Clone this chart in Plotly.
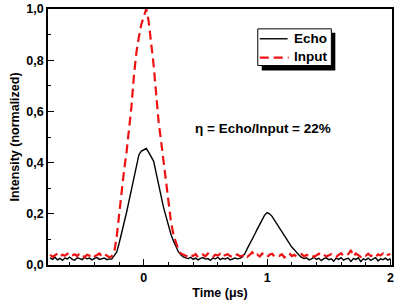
import plotly.graph_objects as go

time_us = [-0.76, -0.74, -0.72, -0.70, -0.68, -0.66, -0.64, -0.62, -0.60, -0.58,
           -0.56, -0.54, -0.52, -0.50, -0.48, -0.46, -0.44, -0.42, -0.40, -0.38,
           -0.36, -0.34, -0.32, -0.30, -0.28, -0.26, -0.24, -0.22, -0.20, -0.18,
           -0.16, -0.14, -0.12, -0.10, -0.08, -0.06, -0.04, -0.02, 0.00, 0.02,
           0.04, 0.06, 0.08, 0.10, 0.12, 0.14, 0.16, 0.18, 0.20, 0.22,
           0.24, 0.26, 0.28, 0.30, 0.32, 0.34, 0.36, 0.38, 0.40, 0.42,
           0.44, 0.46, 0.48, 0.50, 0.52, 0.54, 0.56, 0.58, 0.60, 0.62,
           0.64, 0.66, 0.68, 0.70, 0.72, 0.74, 0.76, 0.78, 0.80, 0.82,
           0.84, 0.86, 0.88, 0.90, 0.92, 0.94, 0.96, 0.98, 1.00, 1.02,
           1.04, 1.06, 1.08, 1.10, 1.12, 1.14, 1.16, 1.18, 1.20, 1.22,
           1.24, 1.26, 1.28, 1.30, 1.32, 1.34, 1.36, 1.38, 1.40, 1.42,
           1.44, 1.46, 1.48, 1.50, 1.52, 1.54, 1.56, 1.58, 1.60, 1.62,
           1.64, 1.66, 1.68, 1.70, 1.72, 1.74, 1.76, 1.78, 1.80, 1.82,
           1.84, 1.86, 1.88, 1.90, 1.92, 1.94, 1.96, 1.98, 2.00]

echo = [0.028, 0.022, 0.030, 0.020, 0.026, 0.018, 0.027, 0.024, 0.031, 0.022,
        0.019, 0.028, 0.025, 0.021, 0.030, 0.024, 0.027, 0.020, 0.026, 0.029,
        0.022, 0.025, 0.027, 0.021, 0.024, 0.023, 0.035, 0.050, 0.085, 0.130,
        0.165, 0.205, 0.250, 0.300, 0.350, 0.390, 0.430, 0.445, 0.450, 0.455,
        0.440, 0.425, 0.405, 0.360, 0.315, 0.265, 0.225, 0.190, 0.150, 0.120,
        0.095, 0.070, 0.052, 0.040, 0.032, 0.028, 0.025, 0.030, 0.022, 0.027,
        0.020, 0.026, 0.029, 0.023, 0.025, 0.018, 0.027, 0.024, 0.030, 0.021,
        0.026, 0.023, 0.028, 0.020, 0.025, 0.027, 0.024, 0.026, 0.032, 0.045,
        0.065, 0.082, 0.100, 0.120, 0.140, 0.160, 0.180, 0.195, 0.205, 0.200,
        0.190, 0.175, 0.160, 0.145, 0.130, 0.110, 0.097, 0.085, 0.070, 0.060,
        0.048, 0.038, 0.030, 0.025, 0.028, 0.020, 0.024, 0.030, 0.022, 0.026,
        0.017, 0.025, 0.028, 0.021, 0.024, 0.015, 0.027, 0.022, 0.029, 0.019,
        0.024, 0.026, 0.014, 0.025, 0.022, 0.028, 0.013, 0.024, 0.020, 0.027,
        0.018, 0.025, 0.029, 0.016, 0.024, 0.021, 0.027, 0.019, 0.025]

input_pulse = [0.040, 0.032, 0.038, 0.045, 0.034, 0.040, 0.036, 0.044, 0.033, 0.038,
               0.042, 0.035, 0.046, 0.037, 0.031, 0.040, 0.036, 0.043, 0.034, 0.039,
               0.045, 0.033, 0.041, 0.037, 0.030, 0.034, 0.050, 0.110, 0.200, 0.290,
               0.370, 0.440, 0.520, 0.620, 0.740, 0.830, 0.890, 0.940, 0.970, 1.000,
               0.950, 0.870, 0.780, 0.670, 0.560, 0.485, 0.400, 0.320, 0.230, 0.170,
               0.120, 0.090, 0.060, 0.045, 0.040, 0.036, 0.032, 0.040, 0.035, 0.043,
               0.030, 0.038, 0.041, 0.034, 0.045, 0.036, 0.031, 0.040, 0.037, 0.044,
               0.033, 0.039, 0.042, 0.035, 0.030, 0.038, 0.041, 0.034, 0.036, 0.043,
               0.032, 0.040, 0.050, 0.035, 0.041, 0.033, 0.045, 0.037, 0.031, 0.040,
               0.044, 0.034, 0.039, 0.036, 0.042, 0.030, 0.038, 0.046, 0.035, 0.040,
               0.033, 0.037, 0.043, 0.034, 0.039, 0.036, 0.041, 0.032, 0.038, 0.044,
               0.035, 0.040, 0.033, 0.037, 0.042, 0.036, 0.031, 0.040, 0.046, 0.035,
               0.039, 0.043, 0.058, 0.034, 0.045, 0.038, 0.032, 0.041, 0.036, 0.044,
               0.035, 0.039, 0.031, 0.042, 0.037, 0.045, 0.034, 0.040, 0.043]

x_major_ticks = [0, 1, 2]
x_major_labels = ["0", "1", "2"]
y_major_ticks = [0.0, 0.2, 0.4, 0.6, 0.8, 1.0]
y_major_labels = ["0,0", "0,2", "0,4", "0,6", "0,8", "1,0"]
series_names = ["Echo", "Input"]
annotation_text = "\u03b7 = Echo/Input = 22%"

FONT = "Liberation Sans, Arial, sans-serif"
W, H = 396, 303
ML, MR, MT, MB = 48, 2, 7, 38
PW, PH = W - ML - MR, H - MT - MB


def px(x):
    return (x - ML) / PW


def py(y):
    return (H - MB - y) / PH


ECHO_LINE = dict(color="black", width=1.4)
INPUT_LINE = dict(color="#ee1111", width=2.2, dash="9px,5px")

fig = go.Figure()
fig.add_trace(go.Scatter(x=time_us, y=echo, mode="lines", name=series_names[0],
                         line=ECHO_LINE, showlegend=False))
fig.add_trace(go.Scatter(x=time_us, y=input_pulse, mode="lines", name=series_names[1],
                         line=INPUT_LINE, showlegend=False))

# hand-drawn legend box (with shadow) like the original
fig.add_shape(type="rect", xref="paper", yref="paper",
              x0=px(263), x1=px(337), y0=py(69), y1=py(31),
              fillcolor="black", line=dict(width=0), layer="above")
fig.add_shape(type="rect", xref="paper", yref="paper",
              x0=px(259), x1=px(333), y0=py(64), y1=py(27),
              fillcolor="white", line=dict(color="black", width=1), layer="above")
fig.add_shape(type="line", xref="paper", yref="paper",
              x0=px(261), x1=px(289), y0=py(37), y1=py(37),
              line=ECHO_LINE, layer="above")
fig.add_shape(type="line", xref="paper", yref="paper",
              x0=px(261), x1=px(290), y0=py(56), y1=py(56),
              line=INPUT_LINE, layer="above")
for name, yy in zip(series_names, [37, 55]):
    fig.add_annotation(x=px(293), y=py(yy), xref="paper", yref="paper", text=name,
                       showarrow=False, xanchor="left", yanchor="middle",
                       font=dict(family=FONT, size=13.5, color="black", weight="bold"))

fig.add_annotation(x=0.97, y=0.535, xref="x", yref="y", text=annotation_text,
                   showarrow=False, xanchor="center", yanchor="middle",
                   font=dict(family=FONT, size=13.5, color="black", weight="bold"))

fig.update_layout(
    width=W, height=H,
    margin=dict(l=ML, r=MR, t=MT, b=MB),
    paper_bgcolor="white", plot_bgcolor="white",
    separators=",.",
    font=dict(family=FONT, size=12, color="black"),
    showlegend=False,
)
fig.update_xaxes(range=[-0.777, 2.013], tickmode="array", tickvals=x_major_ticks,
                 ticktext=x_major_labels, ticks="inside", ticklen=6, tickwidth=1,
                 tickcolor="black", showline=True, linecolor="black", linewidth=1.5,
                 mirror=True, showgrid=False, zeroline=False,
                 minor=dict(ticks="inside", ticklen=3, tickcolor="black", dtick=0.2,
                            showgrid=False),
                 tickfont=dict(family=FONT, size=12.5, weight="bold"),
                 title=dict(text="Time (\u03bcs)", standoff=4,
                            font=dict(family=FONT, size=12.5, weight="bold")))
fig.update_yaxes(range=[0, 1.0], tickmode="array", tickvals=y_major_ticks,
                 ticktext=y_major_labels, ticks="inside", ticklen=6, tickwidth=1,
                 tickcolor="black", showline=True, linecolor="black", linewidth=1.5,
                 mirror=True, showgrid=False, zeroline=False,
                 minor=dict(ticks="inside", ticklen=3, tickcolor="black", dtick=0.1,
                            showgrid=False),
                 tickfont=dict(family=FONT, size=12.5, weight="bold"),
                 title=dict(text="Intensity (normalized)", standoff=4,
                            font=dict(family=FONT, size=12.5, weight="bold")))

fig.write_html("out.html", config={"displayModeBar": False},
               post_script="document.body.style.margin='0px';document.body.style.padding='0px';")
